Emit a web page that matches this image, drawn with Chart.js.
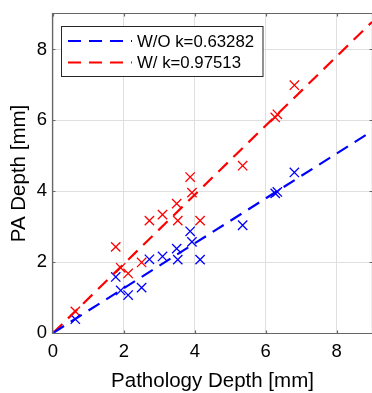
<!DOCTYPE html>
<html>
<head>
<meta charset="utf-8">
<script src="https://cdn.jsdelivr.net/npm/chart.js@4.4.1/dist/chart.umd.min.js"></script>
<style>
  html, body { margin: 0; padding: 0; background: #fff; }
  #wrap { width: 372px; height: 393px; }
</style>
</head>
<body>
<div id="wrap"><canvas id="chart" width="372" height="393"></canvas></div>
<script>
// pathology depth of each sample (x) and PA depth without / with correction (y), mm
const pathologyDepth = [0.63, 1.77, 1.91, 2.12, 2.50, 2.72, 3.09, 3.49, 3.52, 3.87, 3.92, 4.15, 5.35, 6.27, 6.33, 6.81];
const paDepthWithout = [0.39, 1.58, 1.20, 1.07, 1.28, 2.08, 2.16, 2.38, 2.07, 2.87, 2.57, 2.07, 3.04, 3.94, 3.98, 4.53];
const paDepthWith    = [0.61, 2.43, 1.84, 1.68, 1.99, 3.17, 3.34, 3.65, 3.17, 4.40, 3.96, 3.17, 4.72, 6.08, 6.17, 6.99];

// fitted lines through the origin (end points)
const fitX = [0, 9];
const fitWithout = [0, 5.695];
const fitWith = [0, 8.776];
const fitLabels = ['W/O k=0.63282', 'W/ k=0.97513'];

const tickValues = [0, 2, 4, 6, 8];

const BLUE = '#0000ff';
const RED = '#ff0000';
const AXIS = '#666666';
const FONT = "'Liberation Sans', Arial, sans-serif";

const toPoints = (xs, ys) => xs.map((x, i) => ({ x: x, y: ys[i] }));

// matlab style box: full frame + inward ticks
const axesBox = {
    id: 'axesBox',
    afterDatasetsDraw(chart) {
        const { ctx, chartArea: a, scales } = chart;
        const L = a.left - 0.5, R = a.right + 0.5, T = a.top - 0.5, B = a.bottom + 0.5;
        ctx.save();
        ctx.strokeStyle = AXIS;
        ctx.lineWidth = 1.2;
        ctx.beginPath();
        ctx.rect(L, T, R - L, B - T);
        tickValues.forEach(v => {
            const px = Math.round(scales.x.getPixelForValue(v)) + 0.5;
            ctx.moveTo(px, B); ctx.lineTo(px, B - 3);
            ctx.moveTo(px, T); ctx.lineTo(px, T + 3);
            const py = Math.round(scales.y.getPixelForValue(v)) + 0.5;
            ctx.moveTo(L, py); ctx.lineTo(L + 3, py);
            ctx.moveTo(R, py); ctx.lineTo(R - 3, py);
        });
        ctx.stroke();
        ctx.restore();
    }
};

// legend with a framed white box, only the fit lines
const boxLegend = {
    id: 'boxLegend',
    afterDraw(chart) {
        const { ctx, chartArea: a } = chart;
        const items = chart.data.datasets.filter(d => d.inLegend);
        const x0 = a.left + 8.5, y0 = a.top + 12.5;
        const w = 201.5, rowH = 21.5, h = 50;
        ctx.save();
        ctx.fillStyle = '#fff';
        ctx.fillRect(x0, y0, w, h);
        ctx.strokeStyle = '#262626';
        ctx.lineWidth = 1;
        ctx.strokeRect(x0, y0, w, h);
        ctx.font = '16.8px ' + FONT;
        ctx.textBaseline = 'middle';
        ctx.textAlign = 'left';
        items.forEach((d, i) => {
            const y = y0 + 14.5 + i * rowH;
            ctx.strokeStyle = d.borderColor;
            ctx.lineWidth = d.borderWidth;
            ctx.setLineDash(d.borderDash);
            ctx.beginPath();
            ctx.moveTo(x0 + 6.5, y);
            ctx.lineTo(x0 + 70.5, y);
            ctx.stroke();
            ctx.setLineDash([]);
            ctx.fillStyle = '#000';
            ctx.fillText(d.label, x0 + 75.5, y + 1);
        });
        ctx.restore();
    }
};

const lineStyle = {
    type: 'line',
    showLine: true,
    pointRadius: 0,
    borderWidth: 2.2,
    borderDash: [13, 8],
    fill: false,
    inLegend: true
};

const noPad = s => { s.paddingLeft = 0; s.paddingRight = 0; s.paddingTop = 0; s.paddingBottom = 0; };

new Chart(document.getElementById('chart'), {
    type: 'scatter',
    data: {
        datasets: [
            Object.assign({}, lineStyle, {
                label: fitLabels[0],
                data: toPoints(fitX, fitWithout),
                borderColor: BLUE
            }),
            Object.assign({}, lineStyle, {
                label: fitLabels[1],
                data: toPoints(fitX, fitWith),
                borderColor: RED
            }),
            {
                label: 'W/O',
                data: toPoints(pathologyDepth, paDepthWithout),
                pointStyle: 'crossRot',
                pointRadius: 6.6,
                borderWidth: 1.3,
                borderColor: BLUE,
                backgroundColor: BLUE
            },
            {
                label: 'W/',
                data: toPoints(pathologyDepth, paDepthWith),
                pointStyle: 'crossRot',
                pointRadius: 6.6,
                borderWidth: 1.3,
                borderColor: RED,
                backgroundColor: RED
            }
        ]
    },
    options: {
        responsive: false,
        animation: false,
        devicePixelRatio: 1,
        layout: { autoPadding: false, padding: { top: 14, right: 0, bottom: 0, left: 0 } },
        plugins: {
            legend: { display: false },
            tooltip: { enabled: false }
        },
        scales: {
            x: {
                type: 'linear',
                min: 0,
                max: 9,
                afterBuildTicks: s => { s.ticks = tickValues.map(v => ({ value: v })); },
                afterFit: s => { s.height = 60; noPad(s); },
                grid: { color: '#dfdfdf', drawTicks: false },
                border: { display: false },
                ticks: { color: '#000', padding: 8, font: { family: FONT, size: 18.5 } },
                title: {
                    display: true,
                    text: 'Pathology Depth [mm]',
                    color: '#000',
                    font: { family: FONT, size: 20.5, lineHeight: 1 },
                    padding: { top: 0, bottom: 1 }
                }
            },
            y: {
                type: 'linear',
                min: 0,
                max: 9,
                afterBuildTicks: s => { s.ticks = tickValues.map(v => ({ value: v })); },
                afterFit: s => { s.width = 53; noPad(s); },
                grid: { color: '#dfdfdf', drawTicks: false },
                border: { display: false },
                ticks: { color: '#000', padding: 6, font: { family: FONT, size: 18.5 } },
                title: {
                    display: true,
                    text: 'PA Depth [mm]',
                    color: '#000',
                    font: { family: FONT, size: 20.5, lineHeight: 1 },
                    padding: { top: 9, bottom: 0 }
                }
            }
        }
    },
    plugins: [axesBox, boxLegend]
});
</script>
</body>
</html>
